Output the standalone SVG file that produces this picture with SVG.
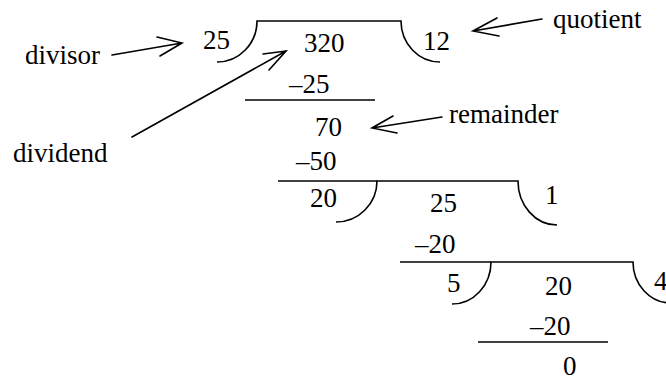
<svg xmlns="http://www.w3.org/2000/svg" width="666" height="379" viewBox="0 0 666 379">
<rect width="666" height="379" fill="#fff"/>
<g id="labels">
<g id="label-divisor"><text x="25" y="64" style="font-family:'Liberation Serif',serif;font-size:27px">divisor</text></g>
<g id="label-dividend"><text x="13" y="162" style="font-family:'Liberation Serif',serif;font-size:27px">dividend</text></g>
<g id="label-quotient"><text x="553" y="28" style="font-family:'Liberation Serif',serif;font-size:27px">quotient</text></g>
<g id="label-remainder"><text x="449" y="123" style="font-family:'Liberation Serif',serif;font-size:27px">remainder</text></g>
</g>
<g id="numbers">
<text x="203" y="49" style="font-family:'Liberation Serif',serif;font-size:27px">25</text>
<text x="304" y="52" style="font-family:'Liberation Serif',serif;font-size:27px">320</text>
<text x="423" y="50" style="font-family:'Liberation Serif',serif;font-size:27px">12</text>
<text x="289" y="93" style="font-family:'Liberation Serif',serif;font-size:27px">&#8211;25</text>
<text x="315" y="136" style="font-family:'Liberation Serif',serif;font-size:27px">70</text>
<text x="296" y="170" style="font-family:'Liberation Serif',serif;font-size:27px">&#8211;50</text>
<text x="310" y="207" style="font-family:'Liberation Serif',serif;font-size:27px">20</text>
<text x="430" y="212" style="font-family:'Liberation Serif',serif;font-size:27px">25</text>
<text x="545" y="204" style="font-family:'Liberation Serif',serif;font-size:27px">1</text>
<text x="415" y="253" style="font-family:'Liberation Serif',serif;font-size:27px">&#8211;20</text>
<text x="447" y="292" style="font-family:'Liberation Serif',serif;font-size:27px">5</text>
<text x="545" y="295" style="font-family:'Liberation Serif',serif;font-size:27px">20</text>
<text x="654" y="290" style="font-family:'Liberation Serif',serif;font-size:27px">4</text>
<text x="530" y="335" style="font-family:'Liberation Serif',serif;font-size:27px">&#8211;20</text>
<text x="563" y="375" style="font-family:'Liberation Serif',serif;font-size:27px">0</text>
</g>
<g id="division-lines" stroke="#000" stroke-width="1.6" fill="none">
<path d="M217,62 A40,41 0 0 0 257,21 L401,21 A39,41 0 0 0 440,62"/>
<line x1="245" y1="100" x2="375" y2="100"/>
<line x1="278" y1="181" x2="377" y2="181"/>
<path d="M336,222 A41,41 0 0 0 377,181 L518,181 A39,44 0 0 0 557,225"/>
<line x1="400" y1="262" x2="491" y2="262"/>
<path d="M452,304 A39,42 0 0 0 491,262 L633,262 A38,41 0 0 0 671,303"/>
<line x1="478" y1="342" x2="608" y2="342"/>
</g>
<g id="connectors" stroke="#000" stroke-width="1.6" fill="none" stroke-linecap="round">
<path d="M112,55 L182,43 M157,37 L182,43 L160,56"/>
<path d="M132,137 L286,51 M263,54 L286,51 L269,70"/>
<path d="M542,19 L473,31 M497,18 L473,31 L499,36"/>
<path d="M442,117 L372,128 M393,116 L372,128 L397,133"/>
</g>
</svg>
